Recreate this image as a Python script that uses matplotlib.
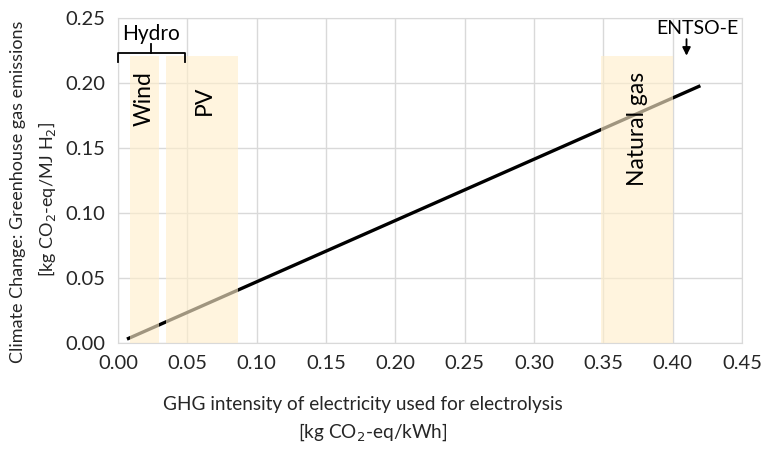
import numpy as np
import matplotlib.pyplot as plt

plt.rcParams['font.family'] = ['Lato', 'DejaVu Sans']

# emission line (kg CO2-eq/kWh -> kg CO2-eq/MJ H2)
line_x = [0.0065, 0.42]
line_y = [0.003, 0.198]

# shaded technology ranges
tech_names = ['Wind', 'PV', 'Natural gas']
tech_lo = [0.0087, 0.0344, 0.348]
tech_hi = [0.0296, 0.0868, 0.400]
tech_top = 0.221

hydro_range = [0.0, 0.048]
entsoe_x = 0.41

xticks = np.arange(0, 0.451, 0.05)
yticks = np.arange(0, 0.251, 0.05)

fig = plt.figure(figsize=(7.61, 4.54), dpi=100)
ax = fig.add_axes([0.155, 0.2445, 0.82, 0.7155])

ax.plot(line_x, line_y, color='black', lw=2.4, zorder=2, solid_capstyle='butt')

for name, lo, hi in zip(tech_names, tech_lo, tech_hi):
    ax.fill_between([lo, hi], 0, tech_top, color='#ffeecb', alpha=0.63, lw=0, zorder=3)

ax.text(0.019, 0.188, 'Wind', rotation=90, ha='center', va='center', fontsize=16.5, zorder=4)
ax.text(0.062, 0.187, 'PV', rotation=90, ha='center', va='center', fontsize=16.5, zorder=4)
ax.text(0.375, 0.165, 'Natural gas', rotation=90, ha='center', va='center', fontsize=16.5, zorder=4)

# Hydro bracket
hl, hr = hydro_range
hm = (hl + hr) / 2
ax.plot([hl, hl, hr, hr], [0.216, 0.223, 0.223, 0.216], color='black', lw=1.3, clip_on=False, zorder=4)
ax.plot([hm, hm], [0.223, 0.230], color='black', lw=1.3, clip_on=False, zorder=4)
ax.text(hm, 0.2300, 'Hydro', ha='center', va='bottom', fontsize=15, zorder=4)

# ENTSO-E marker
ax.annotate('', xy=(entsoe_x, 0.219), xytext=(entsoe_x, 0.236),
            arrowprops=dict(arrowstyle='-|>', color='black', lw=1.3, mutation_scale=12))
ax.text(0.418, 0.2355, 'ENTSO-E', ha='center', va='bottom', fontsize=14)

ax.set_xlim(0, 0.45)
ax.set_ylim(0, 0.25)
ax.set_xticks(xticks)
ax.set_yticks(yticks)
ax.set_xticklabels([f'{v:.2f}' for v in xticks])
ax.set_yticklabels([f'{v:.2f}' for v in yticks])
ax.tick_params(length=0, labelsize=14.5, pad=9, colors='#262626')
ax.grid(True, color='#d9d9d9', lw=1, zorder=0)
ax.set_axisbelow(True)
for s in ax.spines.values():
    s.set_color('#d9d9d9')

fig.text(0.477, 0.108, 'GHG intensity of electricity used for electrolysis',
         ha='center', va='center', fontsize=13.7, color='#262626')
fig.text(0.49, 0.048, '[kg CO$_2$-eq/kWh]', ha='center', va='center', fontsize=13.7, color='#262626')
fig.text(0.024, 0.577, 'Climate Change: Greenhouse gas emissions', rotation=90,
         ha='center', va='center', fontsize=13, color='#262626')
fig.text(0.062, 0.56, '[kg CO$_2$-eq/MJ H$_2$]', rotation=90,
         ha='center', va='center', fontsize=13, color='#262626')

fig.savefig('out.png', dpi=100)
